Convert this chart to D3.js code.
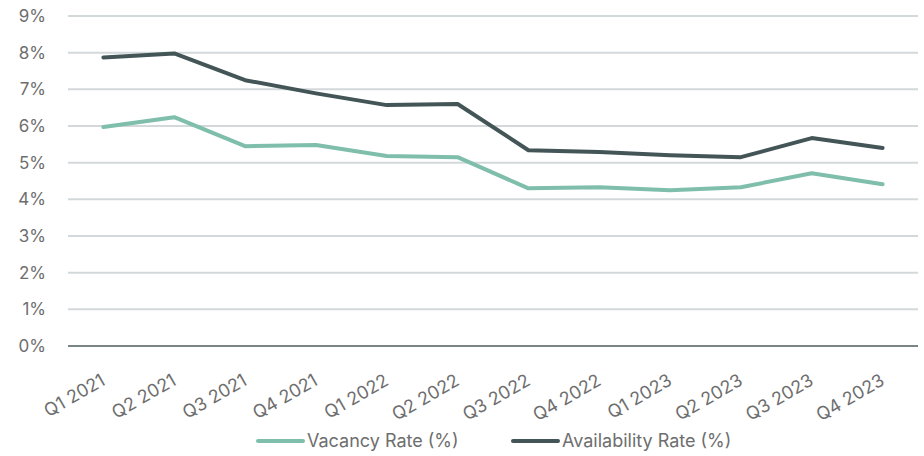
<!DOCTYPE html>
<html>
<head>
<meta charset="utf-8">
<script src="https://cdn.jsdelivr.net/npm/d3@7"></script>
<style>
  body { margin: 0; background: #fff; }
  text { font-family: Inter, "Open Sans", sans-serif; fill: #6e6e6e; }
</style>
</head>
<body>
<svg width="924" height="456"></svg>
<script>
const width = 924;
const height = 456;

// Data
const quarters = ["Q1 2021", "Q2 2021", "Q3 2021", "Q4 2021", "Q1 2022", "Q2 2022",
  "Q3 2022", "Q4 2022", "Q1 2023", "Q2 2023", "Q3 2023", "Q4 2023"];
const vacancyRate = [5.97, 6.24, 5.45, 5.48, 5.18, 5.15, 4.3, 4.33, 4.25, 4.33, 4.71, 4.41];
const availabilityRate = [7.87, 7.98, 7.25, 6.89, 6.57, 6.6, 5.34, 5.29, 5.2, 5.15, 5.67, 5.4];
const yTicks = [0, 1, 2, 3, 4, 5, 6, 7, 8, 9];

const series = [
  { name: "Vacancy Rate (%)", values: vacancyRate, color: "#7fbeab" },
  { name: "Availability Rate (%)", values: availabilityRate, color: "#435556" },
];

const margin = { top: 16, right: 6, bottom: 110, left: 68 };

const svg = d3.select("svg").attr("width", width).attr("height", height);

const x = d3.scaleBand()
  .domain(quarters)
  .range([margin.left, width - margin.right]);

const y = d3.scaleLinear()
  .domain([0, 9])
  .range([height - margin.bottom, margin.top]);

// Grid lines
svg.append("g")
  .selectAll("line")
  .data(yTicks.filter(d => d > 0))
  .join("line")
  .attr("x1", margin.left)
  .attr("x2", width - margin.right)
  .attr("y1", d => y(d))
  .attr("y2", d => y(d))
  .style("stroke", "#d3d8da")
  .style("stroke-width", 2);

// Baseline
svg.append("line")
  .attr("x1", margin.left)
  .attr("x2", width - margin.right)
  .attr("y1", y(0))
  .attr("y2", y(0))
  .style("stroke", "#4d5c5e")
  .style("stroke-width", 1.5);

// Y axis labels
svg.append("g")
  .selectAll("text")
  .data(yTicks)
  .join("text")
  .attr("x", 46)
  .attr("y", d => y(d))
  .attr("dy", "0.35em")
  .attr("text-anchor", "end")
  .style("font-size", "17px")
  .text(d => d + "%");

// X axis labels
svg.append("g")
  .selectAll("text")
  .data(quarters)
  .join("text")
  .attr("text-anchor", "end")
  .attr("transform", d => `translate(${x(d) + x.bandwidth() / 2 + 3},${y(0) + 38}) rotate(-30)`)
  .style("font-size", "18px")
  .text(d => d);

// Lines
const line = d3.line()
  .x((d, i) => x(quarters[i]) + x.bandwidth() / 2)
  .y(d => y(d));

svg.append("g")
  .selectAll("path")
  .data(series)
  .join("path")
  .attr("d", d => line(d.values))
  .attr("fill", "none")
  .style("stroke", d => d.color)
  .style("stroke-width", 4)
  .style("stroke-linejoin", "round")
  .style("stroke-linecap", "round");

// Legend
const legendX = [258, 513];
const legend = svg.append("g")
  .selectAll("g")
  .data(series)
  .join("g")
  .attr("transform", (d, i) => `translate(${legendX[i]},441)`);

legend.append("line")
  .attr("x1", 0)
  .attr("x2", 45)
  .style("stroke", d => d.color)
  .style("stroke-width", 4)
  .style("stroke-linecap", "round");

legend.append("text")
  .attr("x", 49)
  .attr("dy", "0.35em")
  .style("font-size", "18px")
  .text(d => d.name);
</script>
</body>
</html>
